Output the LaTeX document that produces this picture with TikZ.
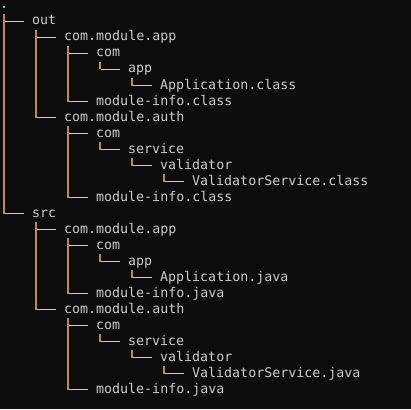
\documentclass[tikz,border=0pt]{standalone}
\usepackage{fontspec}
\setmonofont{DejaVu Sans Mono}
\usepackage{tikz}
\definecolor{termbg}{HTML}{0C0C0C}
\definecolor{termtext}{HTML}{CCCCCC}
\definecolor{lineorange}{HTML}{C88C48}
\tikzset{
  entry/.style={anchor=west,inner sep=0pt,minimum height=16pt,text height=9.5pt,text depth=2.5pt,
    text=termtext,font=\ttfamily\fontsize{13.3}{16}\selectfont},
  vbar/.style={draw=lineorange,line width=1.3pt},
  hbar/.style={draw=termtext,line width=1pt}
}
\newcommand{\branch}[2]{%
\draw[vbar] ([xshift=4pt]#1.south west) -- ([xshift=4pt]#1.south west |- #2.west);
\draw[hbar] ([xshift=4.6pt]#1.south west |- #2.west) -- ([xshift=-8pt]#2.west);}
\begin{document}
\begin{tikzpicture}[x=1pt,y=-1pt]
\fill[termbg] (0,0) rectangle (411,409);
\useasboundingbox (0,0) rectangle (411,409);
\node[entry] (root) at (0,5.5) {.};
\node[entry] (out) at (32,21.5) {out};
\node[entry] (outapp) at (64,37.5) {com.module.app};
\node[entry] (outappcom) at (96,53.5) {com};
\node[entry] (outappdir) at (128,69.5) {app};
\node[entry] (outappcls) at (160,85.5) {Application.class};
\node[entry] (outappinfo) at (96,101.5) {module-info.class};
\node[entry] (outauth) at (64,117.5) {com.module.auth};
\node[entry] (outauthcom) at (96,133.5) {com};
\node[entry] (outauthsvc) at (128,149.5) {service};
\node[entry] (outauthval) at (160,165.5) {validator};
\node[entry] (outauthcls) at (192,181.5) {ValidatorService.class};
\node[entry] (outauthinfo) at (96,197.5) {module-info.class};
\node[entry] (src) at (32,213.5) {src};
\node[entry] (srcapp) at (64,229.5) {com.module.app};
\node[entry] (srcappcom) at (96,245.5) {com};
\node[entry] (srcappdir) at (128,261.5) {app};
\node[entry] (srcappjava) at (160,277.5) {Application.java};
\node[entry] (srcappinfo) at (96,293.5) {module-info.java};
\node[entry] (srcauth) at (64,309.5) {com.module.auth};
\node[entry] (srcauthcom) at (96,325.5) {com};
\node[entry] (srcauthsvc) at (128,341.5) {service};
\node[entry] (srcauthval) at (160,357.5) {validator};
\node[entry] (srcauthjava) at (192,373.5) {ValidatorService.java};
\node[entry] (srcauthinfo) at (96,389.5) {module-info.java};
% out
\branch{root}{out}
\branch{out}{outapp}
\branch{outapp}{outappcom}
\branch{outappcom}{outappdir}
\branch{outappdir}{outappcls}
\branch{outapp}{outappinfo}
\branch{out}{outauth}
\branch{outauth}{outauthcom}
\branch{outauthcom}{outauthsvc}
\branch{outauthsvc}{outauthval}
\branch{outauthval}{outauthcls}
\branch{outauth}{outauthinfo}
% src
\branch{root}{src}
\branch{src}{srcapp}
\branch{srcapp}{srcappcom}
\branch{srcappcom}{srcappdir}
\branch{srcappdir}{srcappjava}
\branch{srcapp}{srcappinfo}
\branch{src}{srcauth}
\branch{srcauth}{srcauthcom}
\branch{srcauthcom}{srcauthsvc}
\branch{srcauthsvc}{srcauthval}
\branch{srcauthval}{srcauthjava}
\branch{srcauth}{srcauthinfo}
\end{tikzpicture}
\end{document}
